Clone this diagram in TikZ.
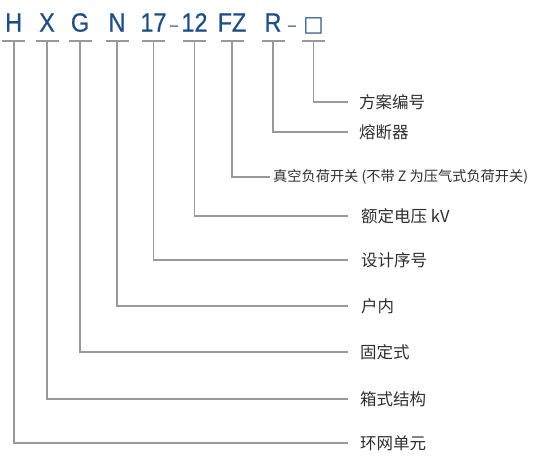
\documentclass[tikz,border=0pt]{standalone}
\usepackage{fontspec}
\setmainfont{Liberation Sans}
\newfontfamily\cjkfont{Noto Sans CJK SC}
\newfontfamily\codefont[FakeStretch=0.88,FakeBold=0.6]{Liberation Sans}
\newfontfamily\symfont{DejaVu Sans}
\usepackage{tikz}
\usetikzlibrary{positioning}
\definecolor{codeBlue}{HTML}{1D4F86}
\definecolor{leadGray}{HTML}{999999}
\definecolor{labelText}{HTML}{2E2E2E}
\tikzset{
  codeChar/.style={text=codeBlue, font=\codefont\fontsize{26.5}{30}\selectfont, inner sep=0pt, anchor=base},
  codeDash/.style={codeChar, font=\codefont\fontsize{16}{20}\selectfont, yshift=1.5pt},
  tickBar/.style={draw=leadGray, line width=1.6pt},
  leader/.style={draw=leadGray, line width=1.6pt},
  meaning/.style={text=labelText, font=\cjkfont\fontsize{16.5}{20}\selectfont, inner sep=0pt, anchor=west},
  meaningSmall/.style={meaning, font=\cjkfont\fontsize{14.2}{17}\selectfont}
}

\begin{document}
\begin{tikzpicture}[x=1pt, y=-1pt]
  \useasboundingbox (0,0) rectangle (534,458);
  % model code, one tick under each part
  \foreach \n/\x/\t in {H/13.7/H, X/47/X, G/80/G, N/117/N, A/153.5/17, B/194.5/12, F/232/FZ, R/273/R}{
    \node[codeChar] (c\n) at (\x,31.7) {\t};
    \coordinate (t\n) at (\x,41);
    \draw[tickBar] ([xshift=-11.5pt]t\n) -- ([xshift=11.5pt]t\n);
  }
  \node[codeChar] (cBox) at (313.5,31.7) {\symfont\fontsize{21.5}{24}\selectfont □};
  \coordinate (tBox) at (313.5,41);
  \draw[tickBar] ([xshift=-11.5pt]tBox) -- ([xshift=11.5pt]tBox);
  \node[codeDash] (dashA) at (174,31.7) {–};
  \node[codeDash] (dashB) at (292,31.7) {–};
  % meanings
  \node[meaning] (mBox) at (359,102) {方案编号};
  \node[meaning] (mR) at (359,132) {熔断器};
  \node[meaningSmall] (mF) at (273,177) {真空负荷开关 (不带 Z 为压气式负荷开关)};
  \node[meaning] (mB) at (361,216) {额定电压 kV};
  \node[meaning] (mA) at (361,260) {设计序号};
  \node[meaning] (mN) at (361,306) {户内};
  \node[meaning] (mG) at (360,352) {固定式};
  \node[meaning] (mX) at (360,399) {箱式结构};
  \node[meaning] (mH) at (360,443) {环网单元};
  % leaders
  \draw[leader] (tBox) |- ([xshift=-11pt]mBox.west);
  \draw[leader] (tR) |- ([xshift=-11pt]mR.west);
  \draw[leader] (tF) |- ([xshift=-3pt]mF.west);
  \draw[leader] (tB) |- ([xshift=-13pt]mB.west);
  \draw[leader] (tA) |- ([xshift=-13pt]mA.west);
  \draw[leader] (tN) |- ([xshift=-13pt]mN.west);
  \draw[leader] (tG) |- ([xshift=-12pt]mG.west);
  \draw[leader] (tX) |- ([xshift=-12pt]mX.west);
  \draw[leader] (tH) |- ([xshift=-12pt]mH.west);
\end{tikzpicture}
\end{document}
